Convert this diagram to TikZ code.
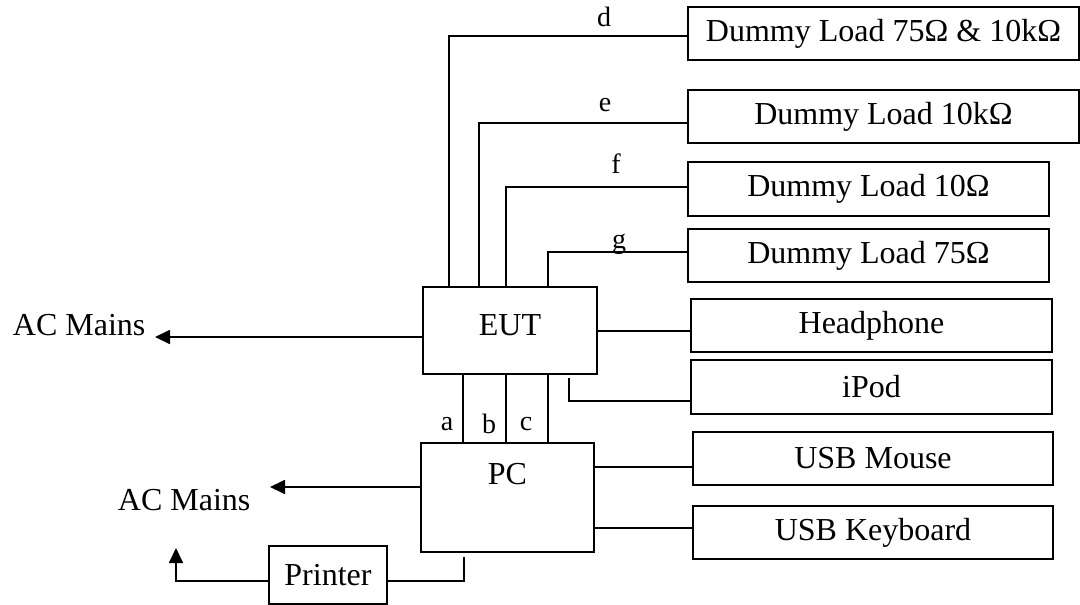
\documentclass[tikz,border=0pt]{standalone}
\usepackage{fontspec}
\setmainfont{Liberation Serif}
\usetikzlibrary{positioning}
\usetikzlibrary{arrows.meta}

\begin{document}
\begin{tikzpicture}[x=1pt, y=-1pt, line width=1.8pt,
			unit/.style={draw, rectangle, inner sep=0pt, minimum height=53pt, font=\fontsize{32}{38}\selectfont},
			mains/.style={inner sep=0pt, font=\fontsize{32}{38}\selectfont},
			tag/.style={inner sep=0pt, font=\fontsize{28}{34}\selectfont},
			>={Triangle[length=15pt, width=14pt]}]
			\useasboundingbox (0,0) rectangle (1080,605);
			
			\node[unit, minimum width=391pt](load1) at (883.5, 33.5) {Dummy Load 75Ω \& 10kΩ};
			\node[unit, minimum width=391pt](load2) at (883.5, 116.5) {Dummy Load 10kΩ};
			\node[unit, minimum width=361pt, minimum height=54pt](load3) at (868.5, 189) {Dummy Load 10Ω};
			\node[unit, minimum width=361pt](load4) at (868.5, 255.5) {Dummy Load 75Ω};
			\node[unit, minimum width=361pt](phone) at (871.5, 325.5) {Headphone};
			\node[unit, minimum width=361pt, minimum height=54pt](ipod) at (871.5, 387) {iPod};
			\node[unit, minimum width=360pt](mouse) at (873, 458.5) {USB Mouse};
			\node[unit, minimum width=360pt](keyb) at (873, 532.5) {USB Keyboard};
			
			\node[unit, minimum width=174pt, minimum height=87pt, text depth=10pt](eut) at (510, 330.5) {EUT};
			\node[unit, minimum width=173pt, minimum height=109pt](pc) at (507.5, 497.5) {};
			\node[mains, below=20pt of pc.north](pclabel) {PC};
			\node[unit, minimum width=118pt, minimum height=58pt](printer) at (328, 575) {Printer};
			
			\node[mains, anchor=base west](mains1) at (12, 335) {AC Mains};
			\node[mains, anchor=base west](mains2) at (117, 510) {AC Mains};
			\coordinate (tip1) at (155, 337);
			\coordinate (tip2) at (270, 487);
			\coordinate (tip3) at (176, 548);
			\coordinate (pcout) at (464, 557);
			\coordinate (eutout) at (569, 378);
			
			% loads above the EUT
			\draw ([xshift=-61pt]eut.north) |- ([yshift=-2.5pt]load1.west);
			\draw ([xshift=-31pt]eut.north) |- ([yshift=-6.5pt]load2.west);
			\draw ([xshift=-4pt]eut.north) |- ([yshift=2pt]load3.west);
			\draw ([xshift=38pt]eut.north) |- ([yshift=3.5pt]load4.west);
			\node[tag, anchor=base](d) at (604, 26) {d};
			\node[tag, anchor=base](e) at (605, 111) {e};
			\node[tag, anchor=base](f) at (616, 173) {f};
			\node[tag, anchor=base](g) at (619, 248) {g};
			
			\draw ([yshift=-0.5pt]eut.east) coordinate (h) -- (h -| phone.west);
			\draw (eutout) |- ([yshift=-14pt]ipod.west);
			
			% EUT to PC
			\foreach \dx in {-47, -4, 38}
				\draw ([xshift=\dx pt]eut.south) -- ([xshift=\dx pt]eut.south |- pc.north);
			\node[tag, anchor=base](a) at (447, 430) {a};
			\node[tag, anchor=base](b) at (489, 433) {b};
			\node[tag, anchor=base](c) at (526, 430) {c};
			
			\draw ([yshift=-8.5pt]mouse.west) coordinate (m) -- (m -| pc.east);
			\draw ([yshift=4.5pt]keyb.west) coordinate (k) -- (k -| pc.east);
			
			\draw[->] (eut.west |- tip1) -- (tip1);
			\draw[->] (pc.west |- tip2) -- (tip2);
			\draw (pcout) |- ([yshift=-6pt]printer.east);
			\draw[->] ([yshift=-6pt]printer.west) -| (tip3);
			
		\end{tikzpicture}
\end{document}
